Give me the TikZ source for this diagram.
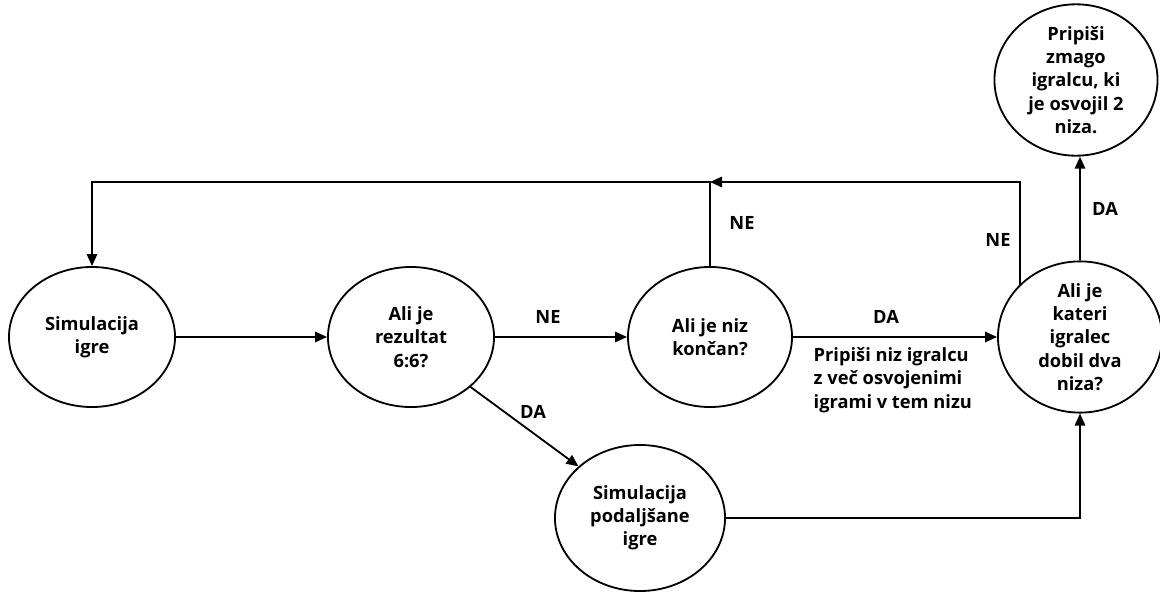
\documentclass[tikz,border=0pt]{standalone}
\usepackage{fontspec}
\setmainfont{Open Sans}
\usepackage{tikz}
\usetikzlibrary{positioning,arrows.meta,shapes.geometric,calc}
\tikzset{
  state/.style={ellipse, draw, line width=1.3pt, align=center, inner sep=0pt, font=\bfseries\fontsize{13}{16.5}\selectfont},
  lbl/.style={inner sep=1pt, font=\bfseries\fontsize{13}{16.5}\selectfont},
  arr/.style={-{Triangle[length=3mm, width=2.6mm]}, line width=1.3pt},
}

\begin{document}
\begin{tikzpicture}[x=0.025cm, y=-0.025cm]
    \useasboundingbox (0,0) rectangle (1160,592);
    % states
    \node[state, minimum width=4.15cm, minimum height=3.5cm]   (sim)    at (92,337)  {Simulacija\\igre};
    \node[state, minimum width=4.15cm, minimum height=3.5cm]   (rez)    at (411,337) {Ali je\\rezultat\\6:6?};
    \node[state, minimum width=4.1cm,  minimum height=3.5cm]   (konc)   at (710,337) {Ali je niz\\končan?};
    \node[state, minimum width=4.1cm,  minimum height=3.5cm]   (dva)    at (1080,337) {Ali je\\kateri\\igralec\\dobil dva\\niza?};
    \node[state, minimum width=4.075cm, minimum height=3.625cm] (zmaga) at (1076,80) {Pripiši\\zmago\\igralcu, ki\\je osvojil 2\\niza.};
    \node[state, minimum width=4.25cm, minimum height=3.65cm]  (podalj) at (640,518) {Simulacija\\podaljšane\\igre};
    \coordinate (jn) at (710,182);
    % connectors
    \draw[arr] (sim) -- (rez);
    \draw[arr] (rez) -- (konc);
    \draw[arr] (konc) -- (dva);
    \draw[arr] (rez.-40) -- (podalj.140);
    \draw[arr] (podalj.east) -| (dva.south);
    \draw[arr] (dva.north) -- (dva.north |- zmaga.south);
    \draw[arr] (konc.north) -- (jn) -| (sim.north);
    \draw[arr] (dva.139) |- (jn);
    % labels
    \node[lbl] (lne1) at (548,317) {NE};
    \node[lbl] (lda1) at (533,412) {DA};
    \node[lbl] (lda2) at (886,317) {DA};
    \node[lbl] (lne2) at (742,223) {NE};
    \node[lbl] (lne3) at (998,240) {NE};
    \node[lbl] (lda3) at (1105,209) {DA};
    \node[lbl, anchor=west, align=left] (lpri) at (812,380) {Pripiši niz igralcu\\z več osvojenimi\\igrami v tem nizu};
\end{tikzpicture}
\end{document}
